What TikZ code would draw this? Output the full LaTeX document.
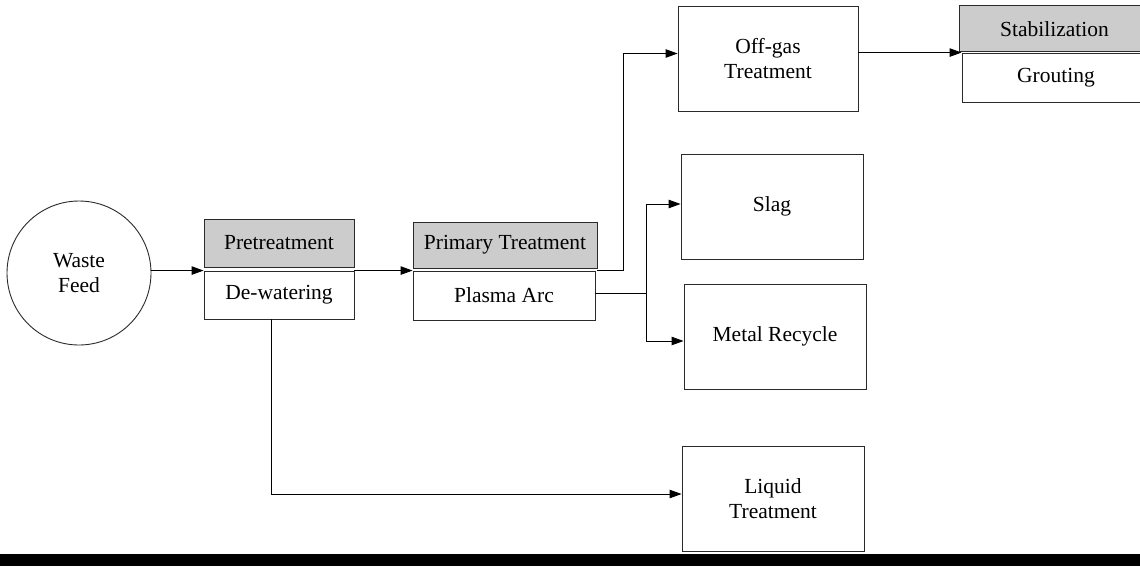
\documentclass[tikz,border=0pt]{standalone}
\usepackage{fontspec}
\setmainfont{Liberation Serif}
\usetikzlibrary{arrows.meta,calc}

\definecolor{headgray}{HTML}{CCCCCC}
\definecolor{edge}{HTML}{2A2A2A}

\tikzset{
  lbl/.style={font=\fontsize{21.5}{24.5}\selectfont, align=center, text=black},
  box/.style={lbl, draw=edge, line width=0.9pt, fill=white, inner sep=0pt, rectangle},
  headbox/.style={box, fill=headgray},
  feedcircle/.style={lbl, draw=edge, line width=0.9pt, circle, inner sep=0pt},
  arr/.style={draw=black, line width=0.9pt, -{Triangle[length=12pt,width=8.5pt]}},
  link/.style={draw=black, line width=0.9pt}
}

\begin{document}
\begin{tikzpicture}[x=1pt,y=-1pt]
  \useasboundingbox (0,0) rectangle (1140,566);
  \clip (0,0) rectangle (1140,566);
  \fill[white] (0,0) rectangle (1140,566);

  % source
  \node[feedcircle, minimum size=144pt] (feed) at (79,273) {Waste\\Feed};

  % pretreatment stage
  \node[headbox, minimum width=150pt, minimum height=48pt] (pre) at (279,243) {Pretreatment};
  \node[box, minimum width=150pt, minimum height=48pt] (dew) at (279,295) {De-watering};

  % primary treatment stage
  \node[headbox, minimum width=184pt, minimum height=46pt] (prim) at (505,245) {Primary Treatment};
  \node[box, minimum width=182pt, minimum height=49pt] (arc) at (504,295.5) {Plasma Arc};

  % downstream units
  \node[box, minimum width=180pt, minimum height=105pt, text depth=-6pt] (offgas) at (768,58.5) {Off-gas\\Treatment};
  \node[box, minimum width=182pt, minimum height=105pt] (slag) at (772,206.5) {Slag};
  \node[box, minimum width=182pt, minimum height=105pt] (metal) at (775,336.5) {Metal Recycle};
  \node[box, minimum width=182pt, minimum height=105pt] (liquid) at (773,498.5) {Liquid\\Treatment};

  % stabilization stage
  \node[headbox, minimum width=191pt, minimum height=46pt] (stab) at (1054.5,28.7) {Stabilization};
  \node[box, minimum width=188pt, minimum height=49pt] (grout) at (1056,77.5) {Grouting};

  % routing points
  \coordinate (ogturn) at (623,53.5);
  \coordinate (split) at (646.5,293);

  % connectors
  \draw[arr] (dew.north west -| feed.east) -- (dew.north west);
  \draw[arr] (dew.north east) -- (arc.north west);
  \draw[arr] ([yshift=-1.5pt]prim.south east) -| (ogturn) -- (ogturn -| offgas.west);
  \draw[arr] (offgas.east |- grout.north west) -- (grout.north west);
  \draw[link] (arc.east |- split) -- (split);
  \draw[arr] (split) |- ([yshift=2.5pt]slag.west);
  \draw[arr] (split) |- ([yshift=-4.5pt]metal.west);
  \draw[arr] ([xshift=-8pt]dew.south) |- ([yshift=4.5pt]liquid.west);

  % bottom rule
  \fill[black] (0,554) rectangle (1140,566);
\end{tikzpicture}
\end{document}
